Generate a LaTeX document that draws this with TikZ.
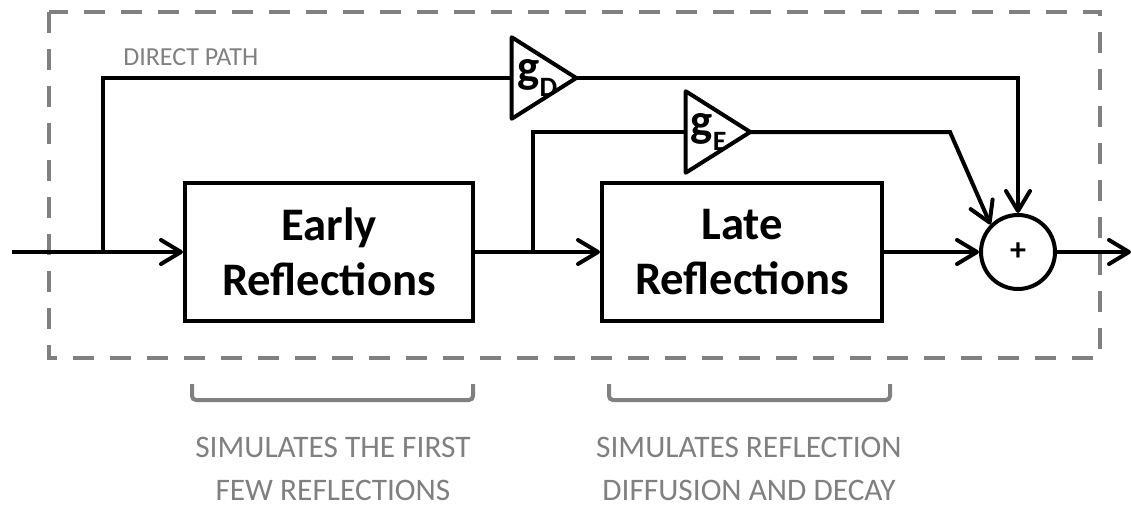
\documentclass[tikz,border=0pt]{standalone}
\usepackage{fontspec}
\setmainfont{Carlito}
\usetikzlibrary{positioning,arrows.meta,calc}
\definecolor{framegray}{RGB}{128,128,128}
\tikzstyle{block} = [rectangle, draw, line width=3pt, text centered, align=center, %
   inner sep=0pt, minimum height=103.5pt, font=\fontsize{35}{41}\selectfont\bfseries]
\tikzstyle{gain} = [rectangle, inner sep=0pt, minimum width=48pt, minimum height=60.75pt]
\tikzstyle{sumnode} = [circle, draw, line width=3pt, inner sep=0pt, minimum size=55.5pt, %
   font=\fontsize{24}{24}\selectfont\bfseries]
\tikzstyle{wire} = [draw, line width=3pt]
\tikzstyle{line} = [draw, line width=3pt, -{Straight Barb[length=15pt,width=18pt,round]}]
\tikzstyle{note} = [text=framegray, align=center, font=\fontsize{23.5}{32}\selectfont]
\tikzstyle{bracket} = [draw=framegray, line width=3pt, rounded corners=3pt]
\newcommand{\gainsub}[1]{g\raisebox{-10pt}{\fontsize{21}{21}\selectfont #1}}

\begin{document}
\begin{tikzpicture}[x=0.75pt,y=-0.75pt]
   \useasboundingbox (0,0) rectangle (1131,507);

   % Frame %%%%%%%%%%%%%%%%%%%%%%%%%%%%%%%%%%%%%%%%%%%%%%%%%%%%%%%%%%%%%%
      \draw[framegray, line width=3pt, dash pattern=on 15.75pt off 12pt] (49,12) rectangle (1100,358);

   % Place nodes
      \coordinate (input) at (12,252);
      \coordinate (split1) at (103,252);
      \coordinate (split2) at (533,252);
      \coordinate (bend) at (950,132);
      \coordinate (output) at (1131,252);

      \node[block, minimum width=216pt] (early) at (329,252) {Early\\Reflections};
      \node[block, minimum width=210pt] (late) at (742,252) {Late\\Reflections};
      \node[sumnode] (sum) at (1018,252) {+};

      \node[gain, label={[xshift=-5pt,font=\fontsize{35}{35}\selectfont\bfseries]center:\gainsub{D}}] (gD) at (544,78) {};
      \node[gain, label={[xshift=-7pt,font=\fontsize{35}{35}\selectfont\bfseries]center:\gainsub{E}}] (gE) at (718,132) {};
      \draw[line width=3pt, line join=round] (gD.north west) -- (gD.east) -- (gD.south west) -- cycle;
      \draw[line width=3pt, line join=round] (gE.north west) -- (gE.east) -- (gE.south west) -- cycle;

      \node[anchor=base west, inner sep=0pt, text=framegray, font=\fontsize{19.5}{20}\selectfont] (directlabel) at (123,65) {DIRECT PATH};

   % Notes %%%%%%%%%%%%%%%%%%%%%%%%%%%%%%%%%%%%%%%%%%%%%%%%%%%%%%%%%%%%%%
      \node[note] (earlynote) at (333,469) {SIMULATES THE FIRST\\FEW REFLECTIONS};
      \node[note] (latenote) at (749,469) {SIMULATES REFLECTION\\DIFFUSION AND DECAY};
      \path[bracket] (192,384) |- (473,400) -- (473,384);
      \path[bracket] (609,384) |- (890,400) -- (890,384);

   % Draw edges
      \path [line] (input) -- (early);
      \path [wire] (split1) |- (gD.west);
      \path [line] (gD.east) -| (sum.north);
      \path [line] (early) -- (late);
      \path [wire] (split2) |- (gE.west);
      \path [line] (gE.east) -- (bend) -- (sum.135);
      \path [line] (late) -- (sum);
      \path [line] (sum) -- (output);
\end{tikzpicture}
\end{document}
